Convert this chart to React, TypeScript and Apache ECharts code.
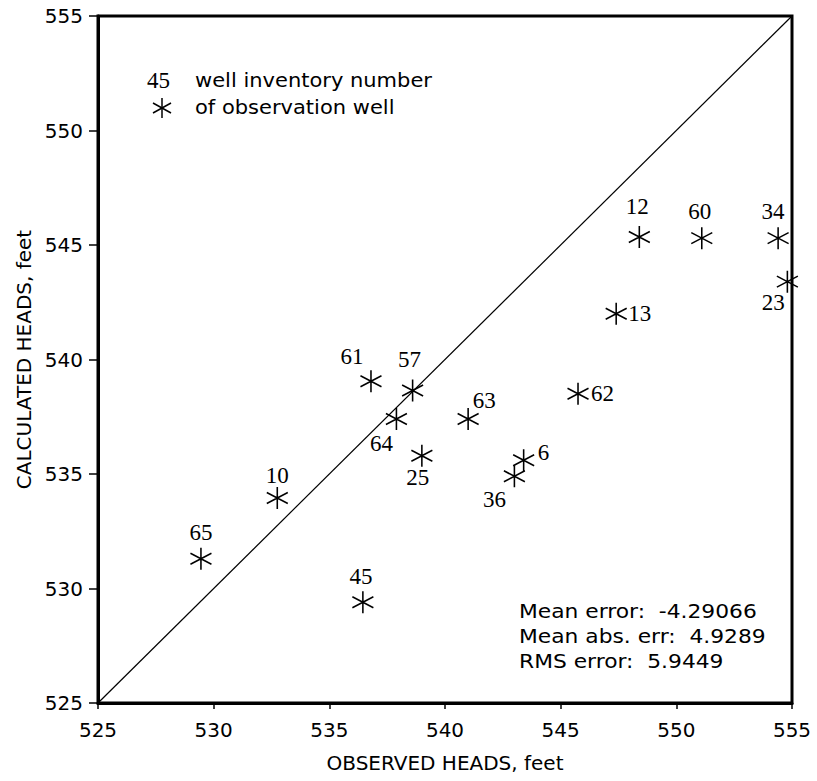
import React, { useEffect, useRef } from "react";
import * as echarts from "echarts";

// Well inventory numbers and heads (feet)
const wellIds = ["12", "60", "34", "23", "13", "61", "57", "64", "63", "62", "25", "6", "36", "10", "65", "45"];
const observedHeads = [548.4, 551.1, 554.4, 554.8, 547.4, 536.8, 538.6, 537.9, 541.0, 545.75, 539.0, 543.4, 543.0, 532.75, 529.45, 536.45];
const calculatedHeads = [545.35, 545.3, 545.3, 543.4, 542.0, 539.05, 538.65, 537.4, 537.4, 538.5, 535.8, 535.6, 534.9, 533.95, 531.3, 529.4];

const axisMin = 525;
const axisMax = 555;
const axisStep = 5;

const statLines = ["Mean error:  -4.29066", "Mean abs. err:  4.9289", "RMS error:  5.9449"];
const legendLines = ["well inventory number", "of observation well"];

// label placement relative to marker centre: [dx, dy, align]
const labelPlacement: Record<string, [number, number, string]> = {
  "12": [-2, -30, "center"],
  "60": [-2, -27, "center"],
  "34": [-5, -27, "center"],
  "23": [-14, 21, "center"],
  "13": [12, 0, "left"],
  "61": [-19, -25, "center"],
  "57": [-3, -31, "center"],
  "64": [-15, 24, "center"],
  "63": [16, -19, "center"],
  "62": [13, 0, "left"],
  "25": [-4, 22, "center"],
  "6": [14, -8, "left"],
  "36": [-20, 23, "center"],
  "10": [0, -23, "center"],
  "65": [0, -26, "center"],
  "45": [-2, -26, "center"],
};

const STAR = "path://M0,-10L0,10M-8.66,-5L8.66,5M-8.66,5L8.66,-5";
const SANS = "'DejaVu Sans', Verdana, sans-serif";
const SERIF = "'Liberation Serif', 'Times New Roman', serif";

export default function App() {
  const ref = useRef<HTMLDivElement>(null);

  useEffect(() => {
    if (!ref.current) return;
    const chart = echarts.init(ref.current, null, { renderer: "svg" });

    const points = wellIds.map((id, i) => {
      const p = labelPlacement[id];
      return {
        value: [observedHeads[i], calculatedHeads[i]],
        name: id,
        label: {
          show: true,
          position: "inside",
          offset: [p[0], p[1]],
          align: p[2],
          verticalAlign: "middle",
          formatter: id,
          fontFamily: SERIF,
          fontSize: 23,
          color: "#000",
          textBorderWidth: 0,
          opacity: 1,
        },
      };
    });

    const axisCommon = {
      type: "value",
      min: axisMin,
      max: axisMax,
      interval: axisStep,
      nameLocation: "middle",
      nameTextStyle: { fontFamily: SANS, fontSize: 20, color: "#000" },
      axisLine: { show: true, onZero: false, lineStyle: { color: "#000", width: 3 } },
      axisTick: { show: true, inside: false, lineStyle: { color: "#000", width: 1.5 } },
      axisLabel: { fontFamily: SANS, fontSize: 20, color: "#000" },
      splitLine: { show: false },
    };

    chart.setOption({
      animation: false,
      backgroundColor: "#fff",
      grid: {
        left: 98,
        top: 16,
        right: 25,
        bottom: 78,
        show: true,
        borderColor: "#000",
        borderWidth: 3,
        backgroundColor: "transparent",
      },
      xAxis: {
        ...axisCommon,
        name: "OBSERVED HEADS, feet",
        nameGap: 50,
        axisTick: { ...axisCommon.axisTick, length: 6 },
        axisLabel: { ...axisCommon.axisLabel, margin: 17 },
      },
      yAxis: {
        ...axisCommon,
        name: "CALCULATED HEADS, feet",
        nameGap: 62,
        axisTick: { ...axisCommon.axisTick, length: 9 },
        axisLabel: { ...axisCommon.axisLabel, margin: 15 },
      },
      series: [
        {
          type: "line",
          data: [
            [axisMin, axisMin],
            [axisMax, axisMax],
          ],
          symbol: "none",
          lineStyle: { color: "#000", width: 1.2 },
          silent: true,
          z: 1,
        },
        {
          type: "scatter",
          data: points,
          symbol: STAR,
          symbolSize: [21, 22],
          itemStyle: { color: "none", borderColor: "#000", borderWidth: 1.6, opacity: 1 },
          z: 3,
        },
      ],
      graphic: [
        {
          type: "text",
          left: 147,
          top: 69,
          style: { text: "45", font: `23px ${SERIF}`, fill: "#000" },
        },
        {
          type: "group",
          x: 162,
          y: 108,
          children: [
            { type: "line", shape: { x1: 0, y1: -10, x2: 0, y2: 10 }, style: { stroke: "#000", lineWidth: 1.5 } },
            { type: "line", shape: { x1: -9, y1: -5, x2: 9, y2: 5 }, style: { stroke: "#000", lineWidth: 1.5 } },
            { type: "line", shape: { x1: -9, y1: 5, x2: 9, y2: -5 }, style: { stroke: "#000", lineWidth: 1.5 } },
          ],
        },
        ...legendLines.map((t, i) => ({
          type: "text",
          x: 195,
          y: 70 + i * 27,
          scaleX: 1.05,
          style: { text: t, font: `20px ${SANS}`, fill: "#000" },
        })),
        ...statLines.map((t, i) => ({
          type: "text",
          x: 519,
          y: 601 + i * 25,
          scaleX: 1.09,
          style: { text: t, font: `20px ${SANS}`, fill: "#000" },
        })),
      ],
    });

    return () => chart.dispose();
  }, []);

  return (
    <div
      ref={ref}
      style={{ position: "fixed", left: 0, top: 0, width: 817, height: 781, background: "#fff" }}
    />
  );
}
